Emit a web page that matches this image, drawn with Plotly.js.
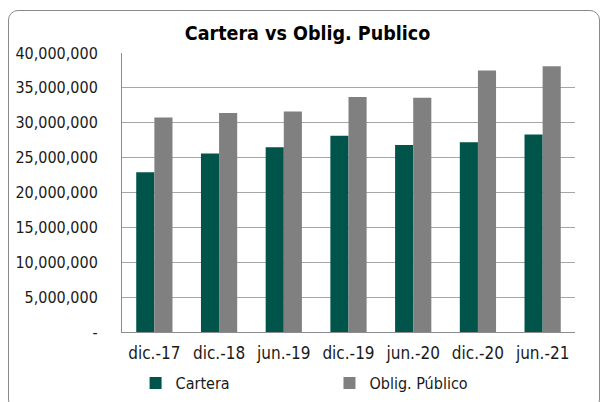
<!DOCTYPE html>
<html><head><meta charset="utf-8">
<script src="https://cdn.plot.ly/plotly-3.0.1.min.js"></script>
<style>
body{margin:0;background:#fff;}
#wrap{position:relative;width:603px;height:402px;}
#chart{position:absolute;left:0;top:0;width:603px;height:402px;}
#frame{position:absolute;left:8px;top:10px;width:592px;height:400px;border:1px solid #8a8a8a;border-radius:10px;pointer-events:none;box-sizing:border-box;}
</style></head>
<body>
<div id="wrap"><div id="chart"></div><div id="frame"></div></div>
<script>
const categories = ["dic.-17","dic.-18","jun.-19","dic.-19","jun.-20","dic.-20","jun.-21"];
const cartera = [22900000,25600000,26500000,28150000,26800000,27200000,28300000];
const obligPublico = [30750000,31400000,31600000,33700000,33600000,37500000,38100000];
const yTickVals = [0,5000000,10000000,15000000,20000000,25000000,30000000,35000000,40000000];
const yTickText = ["-","5,000,000","10,000,000","15,000,000","20,000,000","25,000,000","30,000,000","35,000,000","40,000,000"];

const font = "DejaVu Sans Condensed, DejaVu Sans, sans-serif";
const data = [
  {type:"bar", name:"Cartera", x:categories, y:cartera, marker:{color:"#00544a"}, legend:"legend"},
  {type:"bar", name:"Oblig. Público", x:categories, y:obligPublico, marker:{color:"#808080"}, legend:"legend2"}
];
const legFont = {family:font, size:16, color:"#1a1a1a"};
const layout = {
  width:603, height:402,
  margin:{l:122, r:28, t:53, b:70, autoexpand:false},
  paper_bgcolor:"rgba(0,0,0,0)", plot_bgcolor:"#fff",
  title:{text:"<b>Cartera vs Oblig. Publico</b>", x:0.51, xanchor:"center", y:0.918, yanchor:"middle",
         font:{family:font, size:19.5, color:"#000"}},
  barmode:"group", bargap:0.44, bargroupgap:0,
  xaxis:{showline:true, linecolor:"#8c8c8c", linewidth:1, ticks:"", showgrid:false, ticklabelstandoff:6,
         tickfont:{family:font, size:17, color:"#1a1a1a"}},
  yaxis:{range:[0,40000000], tickvals:yTickVals, ticktext:yTickText, showline:true, linecolor:"#8c8c8c",
         gridcolor:"#a6a6a6", gridwidth:1, zeroline:false, ticks:"", ticklen:0, ticklabelstandoff:20,
         tickfont:{family:font, size:16, color:"#1a1a1a"}},
  legend:{orientation:"h", x:0.03, xanchor:"left", y:-0.183, yanchor:"middle", itemwidth:30, font:legFont},
  legend2:{orientation:"h", x:0.458, xanchor:"left", y:-0.183, yanchor:"middle", itemwidth:30, font:legFont},
  showlegend:true
};
Plotly.newPlot("chart", data, layout, {displayModeBar:false, staticPlot:true});
</script>
</body></html>
